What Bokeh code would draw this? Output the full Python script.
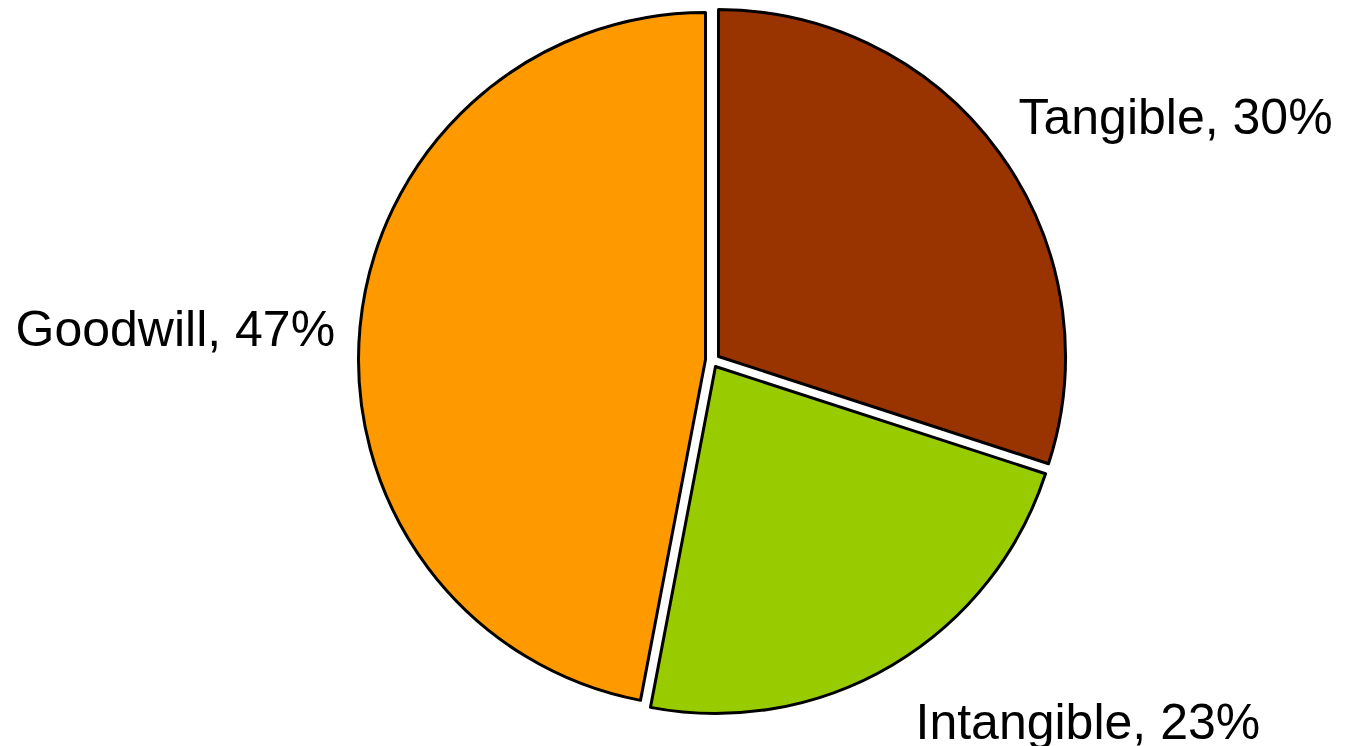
import math
from bokeh.plotting import figure
from bokeh.models import Range1d, ColumnDataSource
from bokeh.core.properties import value
from bokeh.embed import file_html
from bokeh.resources import INLINE

# ---- data ----
categories = ["Tangible", "Intangible", "Goodwill"]
shares = [30, 23, 47]
colors = ["#993300", "#99CC00", "#FF9900"]

# ---- layout (pixel space, y measured from top) ----
W, H = 1347, 746
RADIUS = 347
slice_centers_px = [(718, 356), (715, 366), (705, 359)]
label_pos_px = [(1018, 116), (915, 721), (15, 328)]   # left edge, vertical middle of caps

total = float(sum(shares))
starts, ends = [], []
cum = 0.0
for s in shares:
    t1 = cum / total * 2 * math.pi          # clockwise from 12 o'clock
    cum += s
    t2 = cum / total * 2 * math.pi
    starts.append(math.pi / 2 - t2)
    ends.append(math.pi / 2 - t1)

src = ColumnDataSource(dict(
    x=[c[0] for c in slice_centers_px],
    y=[H - c[1] for c in slice_centers_px],
    start=starts, end=ends, color=colors,
))

p = figure(width=W, height=H, output_backend="svg", toolbar_location=None,
           x_range=Range1d(0, W), y_range=Range1d(0, H), min_border=0)
p.axis.visible = False
p.grid.visible = False
p.outline_line_color = None
p.background_fill_color = "white"
p.border_fill_color = "white"

p.wedge(x="x", y="y", radius=RADIUS, start_angle="start", end_angle="end",
        fill_color="color", line_color="black", line_width=3, line_join="round",
        source=src)

lsrc = ColumnDataSource(dict(
    x=[l[0] for l in label_pos_px],
    y=[H - l[1] for l in label_pos_px],
    text=[f"{c}, {s}%" for c, s in zip(categories, shares)],
))
p.text(x="x", y="y", text="text", source=lsrc, text_font=value("Liberation Sans"),
       text_font_size="50px", text_align="left", text_baseline="middle",
       text_color="black")

open("out.html", "w").write(file_html(p, INLINE))
